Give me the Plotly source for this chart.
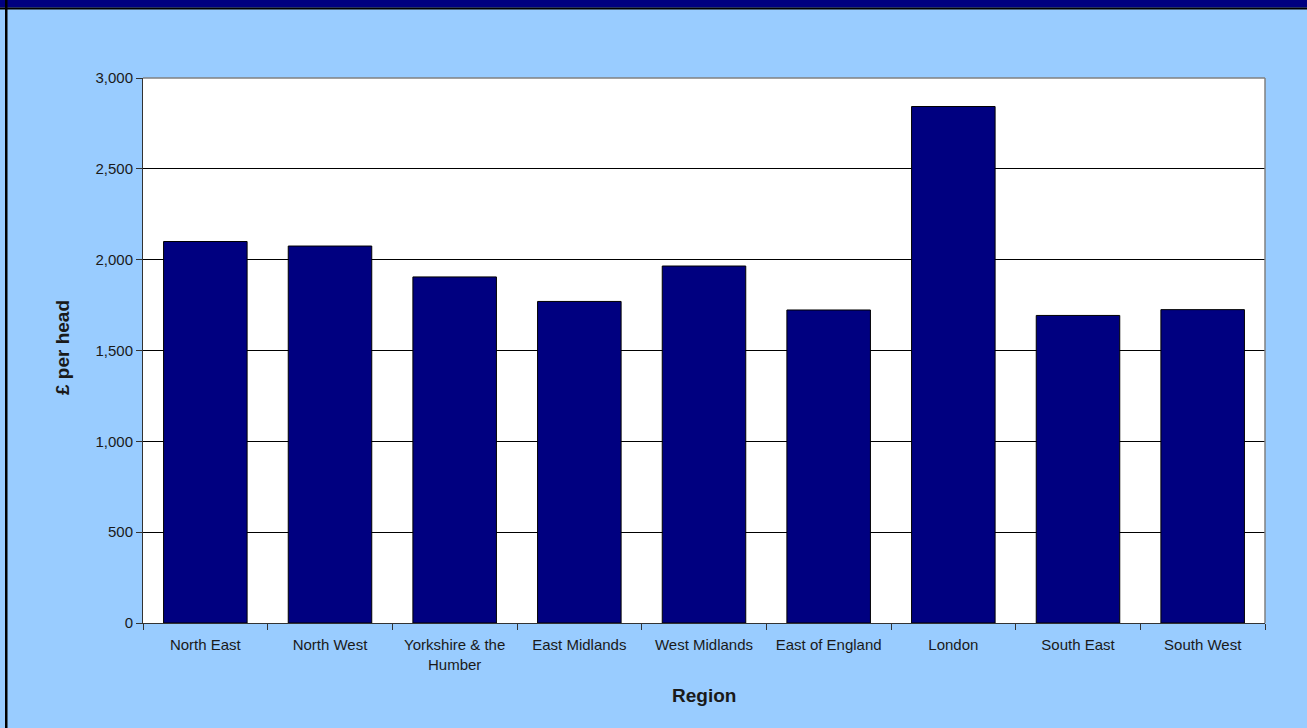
import plotly.graph_objects as go

regions = ["North East", "North West", "Yorkshire & the<br>Humber", "East Midlands",
           "West Midlands", "East of England", "London", "South East", "South West"]
spend_per_head = [2100, 2075, 1905, 1770, 1965, 1723, 2843, 1693, 1725]
y_ticks = [0, 500, 1000, 1500, 2000, 2500, 3000]
y_tick_labels = ["0", "500", "1,000", "1,500", "2,000", "2,500", "3,000"]

W, H = 1307, 728
L, R, T, B = 143, 42, 78, 105
PW, PH = W - L - R, H - T - B

def px_x(px):
    return (px - L) / PW

def px_y(py):
    return (H - B - py) / PH

NAVY = "#000080"
BG = "#99CCFF"
FONT = "Liberation Sans, Arial, sans-serif"
TXT = "#1a1a1a"

fig = go.Figure()
fig.add_trace(go.Bar(
    x=regions, y=spend_per_head,
    marker=dict(color=NAVY, line=dict(color="#000000", width=1)),
    hoverinfo="x+y",
))

fig.update_layout(
    width=W, height=H,
    margin=dict(l=L, r=R, t=T, b=B, pad=0),
    paper_bgcolor=BG, plot_bgcolor="#FFFFFF",
    bargap=0.33,
    showlegend=False,
    font=dict(family=FONT, size=15, color=TXT),
    xaxis=dict(
        type="category",
        tickson="boundaries",
        ticks="outside", ticklen=6, tickcolor="#333333",
        showline=True, linecolor="#333333", linewidth=1,
        showgrid=False,
        ticklabelstandoff=8,
        tickfont=dict(family=FONT, size=15, color=TXT),
        fixedrange=True,
    ),
    yaxis=dict(
        range=[0, 3000],
        tickvals=y_ticks, ticktext=y_tick_labels,
        ticks="outside", ticklen=6, tickcolor="#333333",
        showline=True, linecolor="#333333", linewidth=1,
        showgrid=True, gridcolor="#000000", gridwidth=1,
        zeroline=False,
        tickfont=dict(family=FONT, size=15, color=TXT),
        fixedrange=True,
    ),
    shapes=[
        # top and right plot border (gray)
        dict(type="line", xref="paper", yref="paper", x0=0, x1=1, y0=1, y1=1,
             line=dict(color="#808080", width=1.5)),
        dict(type="line", xref="paper", yref="paper", x0=1, x1=1, y0=0, y1=1,
             line=dict(color="#808080", width=1.5)),
        # navy band at top of the page
        dict(type="rect", xref="paper", yref="paper",
             x0=px_x(0), x1=px_x(W), y0=px_y(7.5), y1=px_y(0),
             fillcolor=NAVY, line=dict(width=0), layer="above"),
        dict(type="rect", xref="paper", yref="paper",
             x0=px_x(0), x1=px_x(W), y0=px_y(9.5), y1=px_y(7.5),
             fillcolor="#000000", line=dict(width=0), layer="above"),
        # left black border
        dict(type="rect", xref="paper", yref="paper",
             x0=px_x(5), x1=px_x(7.5), y0=px_y(H), y1=px_y(0),
             fillcolor="#000000", line=dict(width=0), layer="above"),
    ],
    annotations=[
        dict(text="<b>Region</b>", xref="paper", yref="paper",
             x=px_x(704), y=px_y(695), showarrow=False,
             xanchor="center", yanchor="middle",
             font=dict(family=FONT, size=19, color=TXT)),
        dict(text="<b>£ per head</b>", xref="paper", yref="paper",
             x=px_x(62), y=px_y(348), showarrow=False, textangle=-90,
             xanchor="center", yanchor="middle",
             font=dict(family=FONT, size=19, color=TXT)),
    ],
)

fig.write_html(
    "out.html",
    config={"displayModeBar": False},
    post_script="document.body.style.margin='0';document.body.style.padding='0';"
                "document.body.style.overflow='hidden';"
                "document.body.style.background='#99CCFF';",
)
